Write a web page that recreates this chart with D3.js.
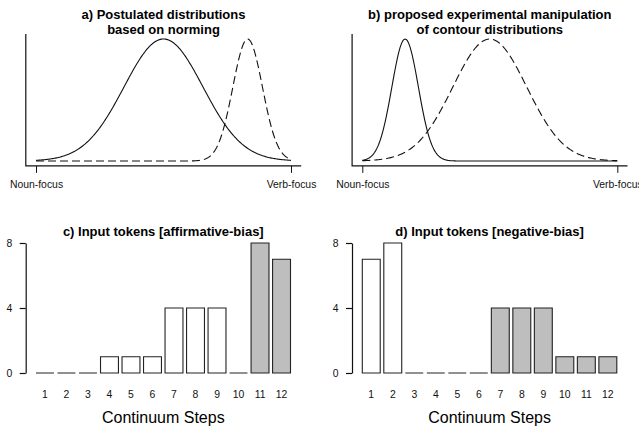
<!DOCTYPE html>
<html>
<head>
<meta charset="utf-8">
<script src="https://cdn.jsdelivr.net/npm/d3@7"></script>
<style>
  body { margin: 0; background: #fff; }
  svg { display: block; font-family: "Liberation Sans", Arial, sans-serif; }
</style>
</head>
<body>
<svg id="chart" width="639" height="428"></svg>
<script>
// Values.
const steps = [1, 2, 3, 4, 5, 6, 7, 8, 9, 10, 11, 12];
const affirmativeTokens = [0, 0, 0, 1, 1, 1, 4, 4, 4, 0, 8, 7];
const negativeTokens = [7, 8, 0, 0, 0, 0, 4, 4, 4, 1, 1, 1];
const affirmativeShaded = [0, 0, 0, 0, 0, 0, 0, 0, 0, 0, 1, 1];
const negativeShaded = [0, 0, 0, 0, 0, 0, 1, 1, 1, 1, 1, 1];
const tokenTicks = [0, 4, 8];

// Contours on a 0 (noun-focus) .. 1 (verb-focus) continuum: [solid, dashed].
const normingMeans = [0.5, 0.83];
const normingSds = [0.155, 0.058];
const manipMeans = [0.168, 0.5];
const manipSds = [0.052, 0.145];
const continuumEnds = ["Noun-focus", "Verb-focus"];

const svg = d3.select("#chart");
const panelShift = 326.3;
const font = "Liberation Sans, Arial, sans-serif";

// Top row: two normal-shaped contours per panel, scaled to the same peak.
function drawContours(ox, titleLines, means, sds) {
  const g = svg.append("g");
  const x = d3.scaleLinear().domain([0, 1]).range([ox + 36, ox + 291]);
  const y = d3.scaleLinear().domain([0, 1]).range([161, 39]);

  // R style "L" box, padded 4% beyond the data range.
  g.append("path")
    .attr("d", "M" + x(-0.04) + "," + y(1.04) + "V" + y(-0.04) + "H" + x(1.04))
    .attr("fill", "none")
    .attr("stroke", "#111")
    .attr("stroke-width", 1.2);

  g.append("g")
    .attr("transform", "translate(0," + y(-0.04) + ")")
    .call(d3.axisBottom(x).tickValues([0, 1]).tickSize(7).tickPadding(8)
      .tickFormat((d, i) => continuumEnds[i]))
    .call(a => a.select(".domain").remove())
    .call(a => a.selectAll("line").attr("stroke", "#111"))
    .call(a => a.selectAll("text").attr("font-size", "10.4px")
      .attr("font-family", font).attr("fill", "#111"));

  const grid = d3.range(0, 1.0001, 0.004);
  const line = d3.line().x(d => x(d[0])).y(d => y(d[1]));
  means.forEach((m, i) => {
    const pts = grid.map(v => [v, Math.exp(-0.5 * Math.pow((v - m) / sds[i], 2))]);
    g.append("path")
      .attr("d", line(pts))
      .attr("fill", "none")
      .attr("stroke", "#111")
      .attr("stroke-width", 1.1)
      .attr("stroke-dasharray", i === 1 ? "8,4" : null);
  });

  titleLines.forEach((t, i) => {
    g.append("text")
      .attr("x", ox + 163.5)
      .attr("y", 19 + i * 14.5)
      .attr("text-anchor", "middle")
      .attr("font-weight", "bold")
      .attr("font-size", "13px")
      .text(t);
  });
}

// Bottom row: token counts per continuum step.
function drawTokens(ox, title, values, shaded) {
  const g = svg.append("g");
  const x = d3.scaleBand().domain(steps).range([ox + 36, ox + 290.5])
    .paddingInner(1 / 6).paddingOuter(0);
  const y = d3.scaleLinear().domain([0, 8]).range([373, 243]);

  // Bars as closed paths so that empty steps still show their flat outline.
  g.selectAll("path.bar")
    .data(values)
    .enter()
    .append("path")
    .attr("class", "bar")
    .attr("d", (d, i) => {
      const x0 = x(steps[i]), x1 = x0 + x.bandwidth();
      return "M" + x0 + "," + y(0) + "V" + y(d) + "H" + x1 + "V" + y(0) + "Z";
    })
    .attr("fill", (d, i) => shaded[i] ? "#bebebe" : "#fff")
    .attr("stroke", "#222")
    .attr("stroke-width", 1.1);

  g.append("g")
    .attr("transform", "translate(" + (ox + 25.7) + ",0)")
    .call(d3.axisLeft(y).tickValues(tokenTicks).tickSize(6).tickSizeOuter(0).tickPadding(7.5))
    .call(a => a.selectAll("path, line").attr("stroke", "#111").attr("stroke-width", 1.2))
    .call(a => a.selectAll("text").attr("font-size", "10.4px")
      .attr("font-family", font).attr("fill", "#111"));

  g.append("g")
    .attr("transform", "translate(0," + y(0) + ")")
    .call(d3.axisBottom(x).tickSize(0).tickPadding(17.6))
    .call(a => a.select(".domain").remove())
    .call(a => a.selectAll("text").attr("font-size", "10.4px")
      .attr("font-family", font).attr("fill", "#111"));

  g.append("text")
    .attr("x", ox + 163.3)
    .attr("y", 236)
    .attr("text-anchor", "middle")
    .attr("font-weight", "bold")
    .attr("font-size", "13px")
    .text(title);

  g.append("text")
    .attr("x", ox + 163.3)
    .attr("y", 423)
    .attr("text-anchor", "middle")
    .attr("font-size", "16px")
    .text("Continuum Steps");
}

drawContours(0, ["a) Postulated distributions", "based on norming"], normingMeans, normingSds);
drawContours(panelShift, ["b) proposed experimental manipulation", "of contour distributions"], manipMeans, manipSds);
drawTokens(0, "c) Input tokens [affirmative-bias]", affirmativeTokens, affirmativeShaded);
drawTokens(panelShift, "d) Input tokens [negative-bias]", negativeTokens, negativeShaded);
</script>
</body>
</html>
